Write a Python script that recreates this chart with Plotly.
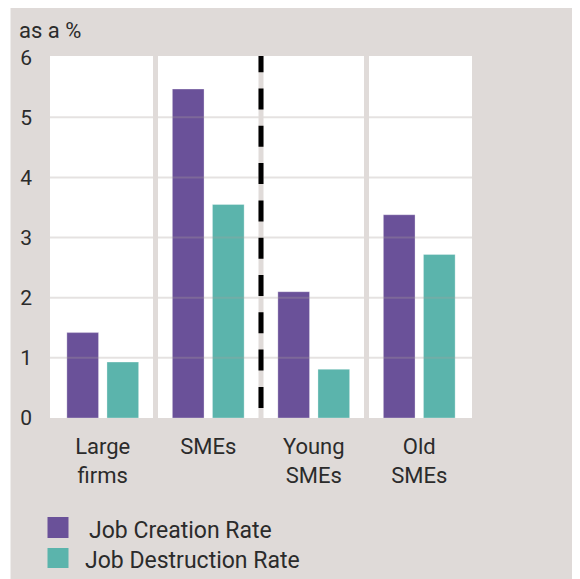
import plotly.graph_objects as go

categories = ["Large<br>firms", "SMEs", "Young<br>SMEs", "Old<br>SMEs"]
job_creation = [1.42, 5.47, 2.10, 3.38]
job_destruction = [0.93, 3.55, 0.81, 2.72]
series_names = ["Job Creation Rate", "Job Destruction Rate"]
y_ticks = [0, 1, 2, 3, 4, 5, 6]
y_title = "as a %"

PURPLE = "#6a5199"
TEAL = "#5bb4ac"
BG = "#dfdad8"
SEP = "#e0dbd9"
FONT = "Roboto"
TXT = "#2b2b2b"

# page places the figure at (8, 8); reference pixel coords are converted below
OFF = 8
W, H = 580, 579
L, T = 49.5 - OFF, 56 - OFF
R = 580 - 471.7 + OFF
B = 579 - 418 + OFF
PW, PH = W - L - R, H - T - B


def px(x):
    return (x - OFF - L) / PW


def py(y):
    return (H - B - (y - OFF)) / PH


fig = go.Figure()
fig.add_trace(go.Bar(x=list(range(len(categories))), y=job_creation, name=series_names[0],
                     marker=dict(color=PURPLE, line=dict(color="rgba(255,255,255,0.3)", width=1)),
                     showlegend=False))
fig.add_trace(go.Bar(x=list(range(len(categories))), y=job_destruction, name=series_names[1],
                     marker=dict(color=TEAL, line=dict(color="rgba(255,255,255,0.3)", width=1)),
                     showlegend=False))

shapes = []
for v in y_ticks[1:-1]:
    shapes.append(dict(type="line", xref="paper", yref="y", x0=0, x1=1, y0=v, y1=v,
                       line=dict(color="rgba(170,160,155,0.3)", width=2), layer="above"))
for i in range(len(categories) - 1):
    shapes.append(dict(type="line", xref="x", yref="paper", x0=i + 0.5, x1=i + 0.5, y0=0, y1=1,
                       line=dict(color=SEP, width=5), layer="above"))
shapes.append(dict(type="line", xref="x", yref="y", x0=1.5, x1=1.5, y0=6.1, y1=0.15,
                   line=dict(color="black", width=5, dash="21px,16.3px"), layer="above"))
shapes.append(dict(type="rect", xref="paper", yref="paper", x0=px(0), x1=px(10), y0=py(H + 20), y1=py(0),
                   fillcolor="white", line=dict(width=0), layer="above"))

legend_colors = [PURPLE, TEAL]
legend_rows = [(517, 538, 88), (548, 568, 84)]
annotations = []
for name, col, (y0, y1, tx) in zip(series_names, legend_colors, legend_rows):
    shapes.append(dict(type="rect", xref="paper", yref="paper", x0=px(47), x1=px(68), y0=py(y1), y1=py(y0),
                       fillcolor=col, line=dict(width=0)))
    annotations.append(dict(text=name, xref="paper", yref="paper", x=px(tx - 1), y=py((y0 + y1) / 2 + 2.5),
                            xanchor="left", yanchor="middle", showarrow=False,
                            font=dict(family=FONT, size=23, color=TXT)))

annotations.append(dict(text=y_title, xref="paper", yref="paper", x=px(16), y=py(30),
                        xanchor="left", yanchor="middle", showarrow=False,
                        font=dict(family=FONT, size=22, color=TXT)))

fig.update_layout(
    width=W, height=H,
    margin=dict(l=L, r=R, t=T, b=B, pad=0),
    paper_bgcolor=BG, plot_bgcolor="white",
    barmode="group", bargap=0.24, bargroupgap=0.21,
    shapes=shapes, annotations=annotations,
    font=dict(family=FONT, color=TXT),
    xaxis=dict(tickmode="array", tickvals=list(range(len(categories))), ticktext=categories,
               range=[-0.5, len(categories) - 0.5], showgrid=False, zeroline=False, showline=False,
               ticks="", tickfont=dict(family=FONT, size=22, color=TXT), ticklabelstandoff=13),
    yaxis=dict(range=[0, 6.02], tickvals=y_ticks, showgrid=False, zeroline=False, showline=False,
               ticks="", tickfont=dict(family=FONT, size=21, color=TXT), ticklabelstandoff=17),
)

fig.write_html("out.html")
